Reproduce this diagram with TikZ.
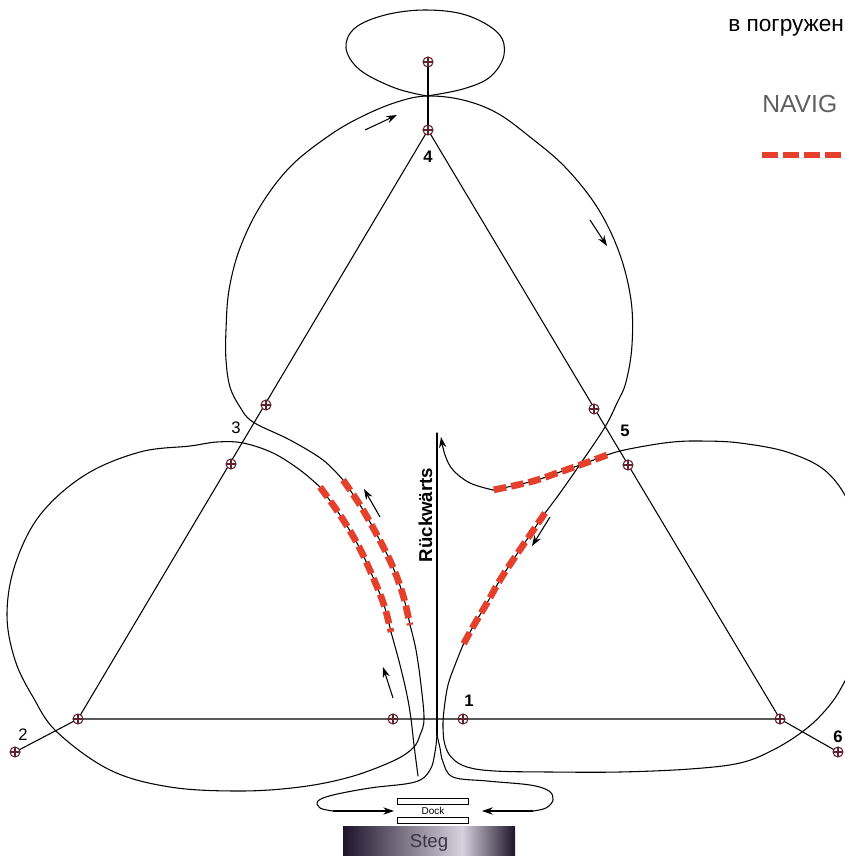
\documentclass[tikz,border=0pt]{standalone}
\usepackage{fontspec}
\setmainfont{Liberation Sans}
\usetikzlibrary{arrows.meta}
\definecolor{mkc}{RGB}{95,35,45}
\definecolor{rdc}{RGB}{228,64,44}
\definecolor{stegdark}{RGB}{30,20,42}
\definecolor{steglight}{RGB}{214,210,222}
\definecolor{navgray}{RGB}{95,95,95}
\definecolor{steggray}{RGB}{55,55,65}
\begin{document}
\begin{tikzpicture}[x=0.75pt,y=-0.75pt,
  trk/.style={line width=0.8pt, black, line cap=round, line join=round},
  redtrk/.style={line width=5pt, rdc, dash pattern=on 9.5pt off 3.75pt},
  mkr/.style={circle, draw=mkc, line width=0.8pt, fill=white, minimum size=7.5pt, inner sep=0pt,
    path picture={\draw[mkc, line width=0.8pt] (path picture bounding box.north) -- (path picture bounding box.south) (path picture bounding box.west) -- (path picture bounding box.east);}},
  arr/.style={line width=0.8pt, -{Stealth[length=8pt,width=5.5pt]}},
  num/.style={font=\bfseries\fontsize{12.5}{14}\selectfont, inner sep=0pt},
  numr/.style={font=\fontsize{12.5}{14}\selectfont, inner sep=0pt}]
\useasboundingbox (0,0) rectangle (845,856);
\clip (0,0) rectangle (845,856);

% ---- coordinates of the marks
\coordinate (c2) at (15,752);
\coordinate (cL) at (78,719);
\coordinate (cb1) at (393,719);
\coordinate (cb2) at (463,719);
\coordinate (cR) at (780,719);
\coordinate (c6) at (838,752);
\coordinate (c3a) at (231,464);
\coordinate (c3b) at (266,405);
\coordinate (c5a) at (594,409);
\coordinate (c5b) at (628,465);
\coordinate (c4) at (428,130);
\coordinate (ctop) at (428,62);

% ---- triangle and spokes
\draw[trk] (cL) -- (c4) -- (cR) -- cycle;
\draw[trk] (c2) -- (cL);
\draw[trk] (cR) -- (c6);
\draw[trk] (c4) -- (ctop);

% ---- top small loop
\draw[trk] plot[smooth, tension=0.6] coordinates {(427,96) (463,89) (490,77) (504,55) (498,33) (466,15) (425,10) (385,15) (355,28) (346,48) (360,70) (395,88) (427,96)};

% ---- upper lobe
\draw[trk] plot[smooth, tension=0.6] coordinates {(343,480) (323,460) (290,440) (253,422) (240,407) (230,387) (226,360) (226,330) (229,290) (240,248) (261,205) (291,166) (330,135) (363,116) (397,102) (427,96) (463,100) (497,113) (530,137) (565,167) (597,207) (619,252) (631,300) (632,345) (626,382) (617,403) (605,427) (583,460) (560,493) (545,513)};

% ---- left route outer (red) and left lobe
\draw[trk] plot[smooth, tension=0.6] coordinates {(343,480) (360,505) (377,535) (392,565) (403,595) (410,625)};
\draw[trk] plot[smooth, tension=0.6] coordinates {(410,625) (416,650) (421,685) (424,719) (420,735) (413,748) (393,761) (350,777) (300,787) (240,791) (170,787) (110,770) (57,732) (33,697) (15,660) (7,615) (15,565) (40,515) (85,475) (140,452) (190,446) (217,442) (243,443) (273,453) (300,470) (320,487)};
\draw[trk] plot[smooth, tension=0.6] coordinates {(320,487) (340,515) (358,545) (372,575) (384,605) (391,632)};
\draw[trk] plot[smooth, tension=0.6] coordinates {(391,632) (400,665) (407,695) (411,719) (414,745) (418,776)};
\draw[redtrk] plot[smooth, tension=0.6] coordinates {(343,480) (360,505) (377,535) (392,565) (403,595) (410,625)};
\draw[redtrk] plot[smooth, tension=0.6] coordinates {(320,487) (340,515) (358,545) (372,575) (384,605) (391,632)};

% ---- right lobe
\draw[trk] plot[smooth, tension=0.6] coordinates {(607,455) (580,465) (560,472) (537,480) (517,485) (493,490)};
\draw[trk] plot[smooth, tension=0.6] coordinates {(607,455) (620,451) (645,446) (673,442) (700,441) (740,443) (790,453) (830,475) (855,520) (862,590) (852,660) (840,690) (823,713) (802,732) (773,750) (740,763) (690,769) (620,772) (550,772) (495,771) (467,767) (452,758) (445,745) (443,728) (444,710) (448,685) (455,665) (463,645)};
\draw[trk] plot[smooth, tension=0.6] coordinates {(545,513) (530,535) (515,557) (500,580) (487,603) (474,625) (463,645)};
\draw[redtrk] plot[smooth, tension=0.6] coordinates {(607,455) (580,465) (560,472) (537,480) (517,485) (493,490)};
\draw[redtrk] plot[smooth, tension=0.6] coordinates {(545,513) (530,535) (515,557) (500,580) (487,603) (474,625) (463,645)};
\draw[trk, -{Stealth[length=8pt,width=5.5pt]}] plot[smooth, tension=0.6] coordinates {(493,490) (470,483) (453,470) (445,455) (441,437)};

% ---- backwards line and dock loop
\coordinate (rtop) at (437,433);
\coordinate (rbot) at (437,735);
\draw[trk] (rtop) -- (rbot);
\draw[trk] plot[smooth, tension=0.6] coordinates {(437,735) (435,752) (430,770) (415,782) (370,788) (333,795) (318,801) (320,808) (333,811)};
\draw[trk] plot[smooth, tension=0.6] coordinates {(437,735) (440,748) (443,762) (453,777) (487,781) (530,785) (549,791) (553,800) (546,808) (533,811)};
\coordinate (dl0) at (333,811);
\coordinate (dl1) at (394,811);
\coordinate (dr0) at (533,811);
\coordinate (dr1) at (482,811);
\draw[arr] (dl0) -- (dl1);
\draw[arr] (dr0) -- (dr1);

% ---- direction arrows
\coordinate (a1s) at (365,130); \coordinate (a1e) at (397,115);
\coordinate (a2s) at (590,220); \coordinate (a2e) at (607,246);
\coordinate (a3s) at (380,517); \coordinate (a3e) at (364,489);
\coordinate (a4s) at (393,698); \coordinate (a4e) at (383,667);
\coordinate (a5s) at (550,517); \coordinate (a5e) at (532,546);
\draw[arr] (a1s) -- (a1e);
\draw[arr] (a2s) -- (a2e);
\draw[arr] (a3s) -- (a3e);
\draw[arr] (a4s) -- (a4e);
\draw[arr] (a5s) -- (a5e);

% ---- marks
\foreach \c in {c2,cL,cb1,cb2,cR,c6,c3a,c3b,c5a,c5b,c4,ctop}
  \node[mkr] (m\c) at (\c) {};

% ---- dock and jetty
\draw[line width=0.7pt, fill=white] (397,798) rectangle (468,804);
\draw[line width=0.7pt, fill=white] (397,817) rectangle (468,823);
\node[inner sep=0pt, font=\fontsize{7.5}{8}\selectfont] (dock) at (433,811) {Dock};
\shade[left color=stegdark, right color=steglight] (343,826) rectangle (462,860);
\shade[left color=steglight, right color=stegdark] (462,826) rectangle (515,860);
\node[inner sep=0pt, text=steggray, font=\fontsize{14}{16}\selectfont] (steg) at (429,843) {Steg};

% ---- labels
\node[numr] (l2) at (23,735) {2};
\node[numr] (l3) at (236,428) {3};
\node[num] (l4) at (428,157) {4};
\node[num] (l5) at (625,431) {5};
\node[num] (l1) at (469,701) {1};
\node[num] (l6) at (838,737) {6};
\node[inner sep=0pt, rotate=90, font=\bfseries\fontsize{14}{16}\selectfont] (rw) at (425.5,515) {Rückwärts};

% ---- legend
\node[anchor=base west, inner sep=0pt, font=\fontsize{17}{20}\selectfont] (leg1) at (728,32) {в погружен};
\node[anchor=base west, inner sep=0pt, text=navgray, font=\fontsize{18.5}{20}\selectfont] (leg2) at (762,113) {NAVIG};
\coordinate (lg0) at (762,155); \coordinate (lg1) at (860,155);
\draw[rdc, line width=5pt, dash pattern=on 12pt off 3.75pt] (lg0) -- (lg1);
\end{tikzpicture}
\end{document}
